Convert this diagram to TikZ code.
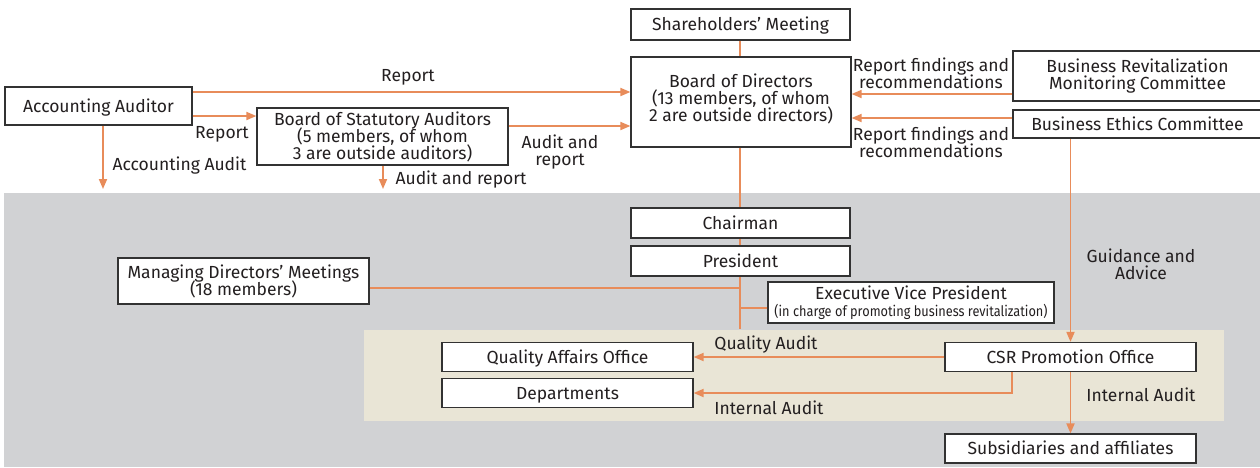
\documentclass[tikz,border=0pt]{standalone}
\usepackage{fontspec}
\usepackage{graphicx}
\setmainfont{Fira Sans}
\usetikzlibrary{arrows.meta}
\lineskiplimit=-30pt
\definecolor{lineor}{RGB}{232,140,90}
\definecolor{bggray}{RGB}{209,210,212}
\definecolor{bgbeige}{RGB}{233,229,214}
\definecolor{txt}{RGB}{35,31,32}
\definecolor{bord}{RGB}{50,50,50}
\begin{document}
\begin{tikzpicture}[x=1pt,y=-1pt,
  every node/.style={font=\fontsize{17.5}{17}\selectfont, text=txt, inner sep=0pt},
  box/.style={draw=bord, line width=1.2pt, fill=white, align=center},
  sl/.style={text height=12pt, text depth=0pt},
  lbl/.style={align=center},
  conn/.style={draw=lineor, line width=1.8pt},
  arr/.style={conn, -{Triangle[length=10pt,width=8pt]}}]
\useasboundingbox (0,0) rectangle (1260,467);
% backgrounds
\fill[bggray] (4,193) rectangle (1260,467);
\fill[bgbeige] (364,330) rectangle (1224,421);
% boxes
\node[box, sl, minimum width=219pt, minimum height=31pt] (sh) at (740.5,24.5) {Shareholders’ Meeting};
\node[box, minimum width=220pt, minimum height=90pt] (bod) at (741,102) {};
\node[lbl] (bodt) at (741,98.5) {Board of Directors\\(13 members, of whom\\2 are outside directors)};
\node[box, sl, minimum width=187pt, minimum height=38pt] (aa) at (98.5,106) {Accounting Auditor};
\node[box, minimum width=251pt, minimum height=57pt] (bsa) at (382.5,136.5) {Board of Statutory Auditors\\(5 members, of whom\\3 are outside auditors)};
\node[box, minimum width=249pt, minimum height=50pt] (brmc) at (1137.5,76) {Business Revitalization\\Monitoring Committee};
\node[box, sl, minimum width=249pt, minimum height=28pt] (bec) at (1137.5,124) {Business Ethics Committee};
% vertical spine from board
\coordinate (spineend) at (740,329);
\draw[conn] (sh.south -| 740,0) -- (bod.north -| 740,0);
\draw[conn] (bod.south -| 740,0) -- (spineend);
\node[box, sl, minimum width=219pt, minimum height=30pt] (ch) at (740.5,223) {Chairman};
\node[box, sl, minimum width=219pt, minimum height=30pt] (pr) at (740.5,261) {President};
\node[box, minimum width=286pt, minimum height=41pt] (evp) at (911,302.5) {Executive Vice President\\[0pt]{\fontsize{14.5}{14}\selectfont\scalebox{0.88}[1]{(in charge of promoting business revitalization)}}};
\node[box, minimum width=251pt, minimum height=46pt] (mdm) at (243.5,281) {Managing Directors’ Meetings\\(18 members)};
\node[box, sl, minimum width=251pt, minimum height=29pt] (qao) at (567.5,357) {Quality Affairs Office};
\node[box, sl, minimum width=251pt, minimum height=29pt] (dep) at (567.5,393) {Departments};
\node[box, sl, minimum width=251pt, minimum height=29pt] (csr) at (1070.5,357) {CSR Promotion Office};
\node[box, sl, minimum width=251pt, minimum height=29pt] (sub) at (1070.5,448.5) {Subsidiaries and affiliates};
% side connectors to spine
\draw[conn] ([yshift=-7pt]mdm.east) coordinate (m1) -- (m1 -| spineend);
\draw[conn] ([yshift=-5.5pt]evp.west) coordinate (e1) -- (e1 -| spineend);
% top-left arrows
\draw[arr] ([yshift=14pt]aa.east) coordinate (a1) -- (a1 -| bod.west);
\draw[arr] ([yshift=-10pt]aa.east) coordinate (a2) -- (a2 -| bsa.west);
\coordinate (aad) at (103,189);
\draw[arr] (aa.south -| aad) -- (aad);
\coordinate (bsad) at (383,189);
\draw[arr] (bsa.south -| bsad) -- (bsad);
\draw[arr] ([yshift=10.5pt]bsa.east) coordinate (b1) -- (b1 -| bod.west);
% right committees
\draw[arr] ([yshift=-18pt]brmc.west) coordinate (r1) -- (r1 -| bod.east);
\draw[arr] ([yshift=6pt]bec.west) coordinate (r2) -- (r2 -| bod.east);
\draw[arr] (bec.south -| csr.north) -- (csr.north);
% CSR arrows
\draw[arr] (csr.west) -- (qao.east);
\coordinate (cd) at ([xshift=-58.5pt]csr.south);
\draw[arr] (cd) -- (cd |- dep.east) -- (dep.east);
\draw[arr] (csr.south) -- (sub.north);
% labels
\node[lbl, sl] (l1) at (408,75) {Report};
\node[lbl, sl] (l2) at (222,132) {Report};
\node[lbl, sl] (l3) at (179.5,164) {Accounting Audit};
\node[lbl, sl] (l4) at (461,178) {Audit and report};
\node[lbl] (l5) at (560,152) {Audit and\\report};
\node[lbl] (l6) at (931,73) {Report findings and\\recommendations};
\node[lbl] (l7) at (931,142) {Report findings and\\recommendations};
\node[lbl] (l8) at (1141,264) {Guidance and\\Advice};
\node[lbl, sl] (l9) at (766,343) {Quality Audit};
\node[lbl, sl] (l10) at (769,408) {Internal Audit};
\node[lbl, sl] (l11) at (1141,395) {Internal Audit};
\end{tikzpicture}
\end{document}
